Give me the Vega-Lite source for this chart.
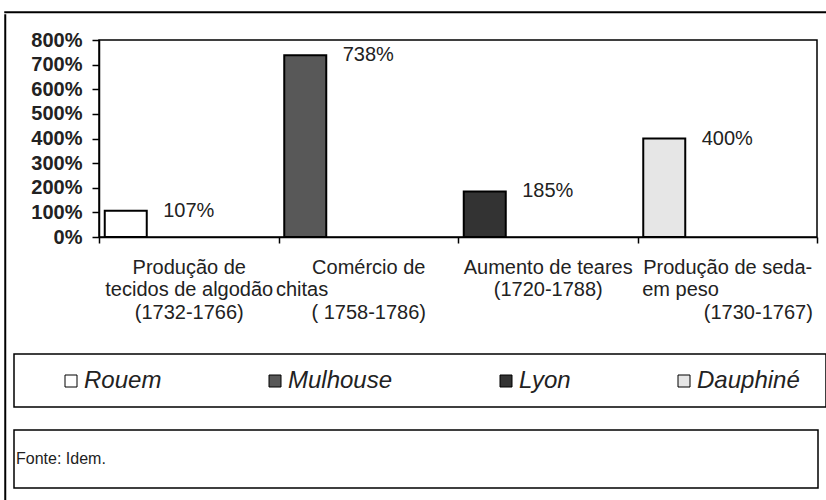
{
  "$schema": "https://vega.github.io/schema/vega-lite/v6.json",
  "padding": {"left": 4, "top": 11, "right": 0, "bottom": 0},
  "background": "white",
  "config": {
    "font": "Liberation Sans",
    "view": {"stroke": "black", "strokeWidth": 1.5}
  },
  "datasets": {
    "dados": [
      {"categoria": "Produção de\ntecidos de algodão\n(1732-1766)", "serie": "Rouem", "valor": 1.07},
      {"categoria": "Comércio de\nchitas\u00a0\u00a0\u00a0\u00a0\u00a0\u00a0\u00a0\u00a0\u00a0\u00a0\u00a0\u00a0\u00a0\u00a0\u00a0\u00a0\u00a0\u00a0\u00a0\u00a0\u00a0\u00a0\u00a0\u00a0\u200b\n( 1758-1786)", "serie": "Mulhouse", "valor": 7.38},
      {"categoria": "Aumento de teares\n(1720-1788)", "serie": "Lyon", "valor": 1.85},
      {"categoria": "Produção de seda-\nem peso\u00a0\u00a0\u00a0\u00a0\u00a0\u00a0\u00a0\u00a0\u00a0\u00a0\u00a0\u00a0\u00a0\u00a0\u00a0\u00a0\u00a0\u200b\n\u200b\u00a0\u00a0\u00a0\u00a0\u00a0\u00a0\u00a0\u00a0\u00a0\u00a0\u00a0(1730-1767)", "serie": "Dauphiné", "valor": 4.0}
    ],
    "fonte": [{"fonte": "Fonte: Idem."}],
    "vazio": []
  },
  "spacing": 0,
  "columns": 1,
  "align": "none",
  "concat": [
    {
      "width": 822, "height": 0.5,
      "data": {"name": "vazio"},
      "mark": {"type": "text"},
      "encoding": {"x": {"field": "t", "type": "nominal", "axis": null}, "text": {"field": "t"}}
    },
    {
      "spacing": 6,
      "align": "none",
      "concat": [
        {
          "width": 0.5, "height": 488,
          "data": {"name": "vazio"},
          "mark": {"type": "text"},
          "encoding": {"x": {"field": "t", "type": "nominal", "axis": null}, "text": {"field": "t"}}
        },
        {
          "spacing": 13,
          "columns": 1,
          "align": "none",
          "concat": [
            {
              "width": 812, "height": 0.5,
              "view": {"stroke": null},
              "data": {"name": "vazio"},
              "mark": {"type": "text"},
              "encoding": {"x": {"field": "t", "type": "nominal", "axis": null}, "text": {"field": "t"}}
            },
            {
              "spacing": 30,
              "columns": 1,
              "align": "none",
              "concat": [
                {
                  "spacing": 0,
                  "align": "none",
                  "concat": [
                    {
                      "width": 0.5, "height": 197,
                      "view": {"stroke": null},
                      "data": {"name": "vazio"},
                      "mark": {"type": "text"},
                      "encoding": {"x": {"field": "t", "type": "nominal", "axis": null}, "text": {"field": "t"}}
                    },
                    {
                      "width": 718,
                      "height": 197,
                      "data": {"name": "dados"},
                      "encoding": {
                        "x": {
                          "field": "categoria", "type": "nominal", "sort": null,
                          "scale": {"paddingInner": 0, "paddingOuter": 0},
                          "axis": {
                            "title": null, "labelAngle": 0, "tickBand": "extent",
                            "tickSize": 6, "tickColor": "black", "tickWidth": 1.5,
                            "domainColor": "black", "domainWidth": 1.5,
                            "labelFontSize": 20, "labelColor": "#222", "labelBaseline": "top",
                            "labelPadding": 14, "labelLineHeight": 22.5,
                            "labelExpr": "split(datum.label, '\\n')",
                            "labelOverlap": false, "labelLimit": 400, "labelBound": false
                          }
                        },
                        "y": {
                          "field": "valor", "type": "quantitative",
                          "scale": {"domain": [0, 8], "nice": false},
                          "axis": {
                            "title": null, "values": [0, 1, 2, 3, 4, 5, 6, 7, 8], "format": ".0%",
                            "grid": false, "domainColor": "black", "domainWidth": 1.5,
                            "tickColor": "black", "tickSize": 7, "tickWidth": 1.5,
                            "labelFontSize": 20, "labelFontWeight": "bold", "labelColor": "#222",
                            "labelPadding": 10, "minExtent": 82.5, "maxExtent": 82.5
                          }
                        }
                      },
                      "layer": [
                        {
                          "mark": {"type": "bar", "width": 42, "xOffset": -63, "stroke": "black", "strokeWidth": 2},
                          "encoding": {
                            "color": {
                              "field": "serie", "type": "nominal", "sort": null,
                              "scale": {"domain": ["Rouem", "Mulhouse", "Lyon", "Dauphiné"], "range": ["#ffffff", "#585858", "#333333", "#e6e6e6"]},
                              "legend": {
                                "orient": "none", "legendX": 54, "legendY": 357,
                                "direction": "horizontal", "columns": 4, "columnPadding": 101,
                                "title": null, "symbolType": "square", "symbolSize": 144,
                                "symbolStrokeColor": "black", "symbolStrokeWidth": 1,
                                "labelFontSize": 24, "labelFontStyle": "italic", "labelColor": "#222",
                                "labelOffset": 1, "labelLimit": 300, "padding": 0
                              }
                            }
                          }
                        },
                        {
                          "mark": {"type": "text", "fontSize": 20, "baseline": "middle", "align": "center", "color": "#222"},
                          "encoding": {"text": {"field": "valor", "type": "quantitative", "format": ".0%"}}
                        }
                      ]
                    }
                  ]
                },
                {
                  "spacing": 21,
                  "columns": 1,
                  "align": "none",
                  "concat": [
                    {
                      "width": 812,
                      "height": 53,
                      "data": {"name": "vazio"},
                      "mark": {"type": "text"},
                      "encoding": {"x": {"field": "t", "type": "nominal", "axis": null}, "text": {"field": "t"}}
                    },
                    {
                      "width": 804,
                      "height": 58,
                      "data": {"name": "fonte"},
                      "mark": {"type": "text", "align": "left", "baseline": "middle", "fontSize": 16, "dx": 2, "color": "#222"},
                      "encoding": {
                        "x": {"field": "fonte", "type": "nominal", "scale": {"type": "point", "padding": 0, "align": 0}, "axis": null},
                        "text": {"field": "fonte"}
                      }
                    }
                  ]
                }
              ]
            }
          ]
        }
      ]
    }
  ]
}
